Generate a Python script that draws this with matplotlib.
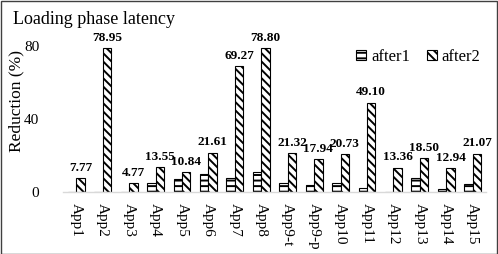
import matplotlib
matplotlib.use("Agg")
import matplotlib.pyplot as plt
import numpy as np
from matplotlib.patches import Rectangle

categories = ["App1", "App2", "App3", "App4", "App5", "App6", "App7", "App8",
              "App9-t", "App9-p", "App10", "App11", "App12", "App13", "App14", "App15"]
after1 = [0, 0, 0, 5.1, 7.1, 9.7, 7.7, 10.8, 5.1, 3.7, 5.1, 2.2, 0, 7.8, 1.5, 4.2]
after2 = [7.77, 78.95, 4.77, 13.55, 10.84, 21.61, 69.27, 78.80, 21.32, 17.94,
          20.73, 49.10, 13.36, 18.50, 12.94, 21.07]
yticks = [0, 40, 80]

plt.rcParams['font.family'] = ['Liberation Serif', 'DejaVu Serif']
plt.rcParams['hatch.linewidth'] = 1.4

W, H = 498, 254
fig = plt.figure(figsize=(W / 100, H / 100), dpi=100)
left, right, bottom0, ytop = 63, 486, 192, 28
ax = fig.add_axes([left / W, (H - bottom0) / H, (right - left) / W, (bottom0 - ytop) / H])

x = np.arange(len(categories))
w = 0.32
ax.bar(x - w / 2, after1, w, facecolor='white', edgecolor='black', linewidth=0.8,
       hatch='---', label='after1')
ax.bar(x + w / 2, after2, w, facecolor='white', edgecolor='black', linewidth=0.8,
       hatch='\\\\\\\\', label='after2')

for xi, v in zip(x, after2):
    ax.annotate(f"{v:.2f}", (xi + w / 2, v), xytext=(0, 3), textcoords='offset points',
                ha='center', va='bottom', fontsize=9.5, fontweight='bold', annotation_clip=False)

ax.set_xlim(-0.5, len(categories) - 0.5)
ax.set_ylim(0, 90)
ax.set_yticks(yticks)
ax.set_yticklabels([str(t) for t in yticks], fontsize=11)
ax.set_xticks(x)
ax.set_xticklabels(categories, rotation=-90, fontsize=11, ha='center', va='top')
ax.tick_params(axis='both', length=0)
ax.tick_params(axis='y', pad=17)
ax.tick_params(axis='x', pad=8)
for s in ['top', 'right', 'left']:
    ax.spines[s].set_visible(False)
ax.spines['bottom'].set_color('#d9d9d9')
ax.spines['bottom'].set_linewidth(1.0)

ax.set_ylabel("Reduction (%)", fontsize=12.5)
ax.yaxis.set_label_coords(-0.092, 0.555)

fig.text(13 / W, 1 - 20 / H, "Loading phase latency", fontsize=13, ha='left', va='center')

leg = ax.legend(loc='center left', bbox_to_anchor=(356 / W, 1 - 57 / H),
                bbox_transform=fig.transFigure, ncol=2, frameon=False, fontsize=12,
                handlelength=0.6, handleheight=0.6, handletextpad=0.3, columnspacing=1.0,
                borderpad=0, borderaxespad=0)

fig.patches.append(Rectangle((0.5 / W, 0.5 / H), 1 - 1.5 / W, 1 - 1.5 / H, transform=fig.transFigure,
                             fill=False, edgecolor='#404040', linewidth=1.0))

fig.savefig("out.png", dpi=100)
